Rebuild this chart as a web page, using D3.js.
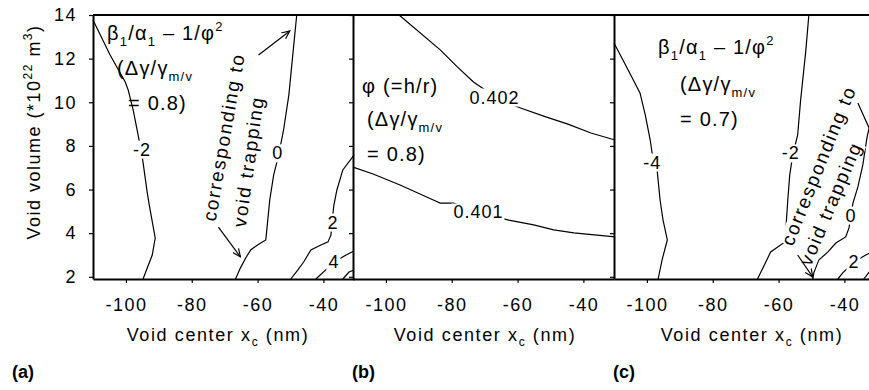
<!DOCTYPE html>
<html>
<head>
<meta charset="utf-8">
<script src="https://cdn.jsdelivr.net/npm/d3@7"></script>
<style>
  body { margin: 0; background: #fff; }
  svg text { font-family: "Liberation Sans", Arial, sans-serif; fill: #000; }
</style>
</head>
<body>
<svg id="chart" width="869" height="390"></svg>
<script>
// axes
const xTicks = [-100, -80, -60, -40];
const yTicks = [2, 4, 6, 8, 10, 12, 14];
const xDomain = [-110, -30.7];
const yDomain = [1.9, 14];

// (a) beta1/alpha1 - 1/phi^2, dgamma = 0.8
const aMinus2 = [[-110, 13.77], [-104.8, 12.17], [-100.2, 10.93], [-99.3, 10.56], [-97.8, 9.65], [-96.6, 8.73], [-95.1, 7.58], [-93.5, 5.84], [-92.9, 5.29], [-91.1, 3.78], [-92.0, 3.0], [-94.8, 1.9]];
const aZero = [[-48.1, 14], [-49.0, 12.63], [-50.5, 10.33], [-52.1, 8.73], [-53.6, 7.58], [-55.1, 6.67], [-56.3, 5.52], [-56.9, 4.6], [-57.5, 3.69], [-60.0, 3.46], [-62.1, 3.23], [-63.6, 2.86], [-65.2, 2.41], [-66.7, 1.9]];
const aTwo = [[-30.7, 7.58], [-34.1, 6.9], [-35.9, 5.98], [-36.8, 5.29], [-37.4, 4.51], [-37.7, 3.92], [-38.6, 3.6], [-41.4, 3.41], [-43.8, 3.23], [-46.0, 2.68], [-47.8, 2.31], [-49.9, 1.9]];
const aFour = [[-30.7, 3.18], [-33.1, 3.0], [-36.8, 2.68], [-38.6, 2.41], [-42.3, 1.9]];
const aSix = [[-30.7, 2.31], [-32.2, 2.22], [-34.1, 1.9]];
const aLabels = [['-2', -95.1, 7.85], ['0', -53.9, 7.68], ['2', -37.1, 4.51], ['4', -36.8, 2.68]];

// (b) phi = h/r, dgamma = 0.8
const b0402 = [[-96.0, 14], [-83.5, 12.4], [-78.3, 11.62], [-73.4, 10.93], [-66.7, 10.24], [-59.1, 9.74], [-51.4, 9.33], [-44.7, 9.0], [-37.7, 8.59], [-30.4, 8.27]];
const b0401 = [[-110, 7.03], [-103.9, 6.71], [-95.7, 6.21], [-85.6, 5.52], [-83.5, 5.38], [-79.5, 5.38], [-71.9, 4.97], [-62.7, 4.6], [-55.1, 4.38], [-49.0, 4.15], [-42.9, 4.01], [-30.4, 3.83]];
const bLabels = [['0.402', -67.0, 10.24], ['0.401', -71.9, 4.97]];

// (c) beta1/alpha1 - 1/phi^2, dgamma = 0.7
const cMinus4 = [[-110, 12.72], [-105.7, 11.48], [-102.1, 10.43], [-100.5, 9.42], [-99.0, 8.27], [-98.1, 7.35], [-96.9, 6.9], [-96.0, 5.52], [-95.1, 4.6], [-93.8, 3.69], [-95.4, 2.77], [-96.6, 1.9]];
const cMinus2 = [[-50.8, 14], [-51.7, 12.4], [-53.3, 10.1], [-54.2, 8.5], [-55.7, 7.58], [-56.6, 6.67], [-57.2, 5.52], [-57.8, 4.15], [-58.5, 3.55], [-62.4, 3.14], [-66.4, 1.9]];
const cZero = [[-35.9, 9.97], [-32.5, 8.82], [-33.1, 8.41], [-34.4, 7.13], [-35.9, 6.12], [-37.4, 5.38], [-38.0, 4.83], [-38.6, 4.24], [-39.6, 3.83], [-42.6, 3.55], [-45.0, 3.14], [-47.8, 2.77], [-49.3, 2.18], [-49.6, 1.9]];
const cTwo = [[-30.4, 3.23], [-33.5, 3.0], [-37.1, 2.68], [-40.5, 2.18], [-42.0, 1.9]];
const cFour = [[-30.4, 2.5], [-32.2, 2.27], [-34.1, 1.9]];
const cLabels = [['-4', -98.4, 7.26], ['-2', -56.3, 7.68], ['0', -38.0, 4.83], ['2', -37.1, 2.68]];

// "corresponding to void trapping" notes: [text, x, y, angle]
const aNotes = [['corresponding to', -72.8, 4.51, -80], ['void trapping', -63.6, 4.24, -82]];
const cNotes = [['corresponding to', -55.7, 3.37, -68], ['void trapping', -50.2, 2.45, -67]];
const aArrows = [[-59.7, 12.17, -50.2, 13.27], [-71.9, 4.28, -65.2, 2.91]];
const cArrows = [[-54.2, 3.0, -49.6, 1.99]];

const plotTop = 15, plotBottom = 279, panelW = 261;
const panels = [
    { left: 93, tag: '(a)', titleX: 218, lines: [aMinus2, aZero, aTwo, aFour, aSix], labels: aLabels, notes: aNotes, arrows: aArrows },
    { left: 353, tag: '(b)', titleX: 485, lines: [b0402, b0401], labels: bLabels, notes: [], arrows: [] },
    { left: 614, tag: '(c)', titleX: 752, lines: [cMinus4, cMinus2, cZero, cTwo, cFour], labels: cLabels, notes: cNotes, arrows: cArrows },
];

const svg = d3.select('#chart');

svg.append('defs').append('marker')
    .attr('id', 'head')
    .attr('viewBox', '0 0 10 10')
    .attr('refX', 9).attr('refY', 5)
    .attr('markerWidth', 9).attr('markerHeight', 9)
    .attr('markerUnits', 'userSpaceOnUse')
    .attr('orient', 'auto')
    .append('path')
    .attr('d', 'M0,1 L9,5 L0,9')
    .attr('fill', 'none')
    .attr('stroke', '#000')
    .attr('stroke-width', 1.3);

const y = d3.scaleLinear().domain(yDomain).range([plotBottom, plotTop]);
const plain = d => String(d);

panels.forEach((p, i) => {
    const x = d3.scaleLinear().domain(xDomain).range([p.left, p.left + panelW]);
    const g = svg.append('g');

    const line = d3.line().x(d => x(d[0])).y(d => y(d[1]));
    g.selectAll('path.contour')
        .data(p.lines)
        .enter().append('path')
        .attr('class', 'contour')
        .attr('d', line)
        .attr('fill', 'none')
        .attr('stroke', '#000')
        .attr('stroke-width', 1.2);

    // contour labels on white patches
    p.labels.forEach(l => {
        const t = g.append('text')
            .attr('x', x(l[1]))
            .attr('y', y(l[2]))
            .attr('dy', '0.36em')
            .attr('text-anchor', 'middle')
            .attr('font-size', 18)
            .attr('letter-spacing', 1)
            .text(l[0]);
        const bb = t.node().getBBox();
        g.insert('rect', 'text')
            .attr('x', bb.x - 2).attr('y', bb.y + 1)
            .attr('width', bb.width + 3).attr('height', bb.height - 2)
            .attr('fill', '#fff');
    });

    p.notes.forEach(n => {
        const t = g.append('text')
            .attr('transform', `translate(${x(n[1])},${y(n[2])}) rotate(${n[3]})`)
            .attr('font-size', 19)
            .attr('letter-spacing', 1.8)
            .text(n[0]);
        const bb = t.node().getBBox();
        g.insert('rect', 'text')
            .attr('transform', `translate(${x(n[1])},${y(n[2])}) rotate(${n[3]})`)
            .attr('x', bb.x).attr('y', bb.y + 2)
            .attr('width', bb.width).attr('height', bb.height - 2)
            .attr('fill', '#fff');
    });

    g.selectAll('line.arrow')
        .data(p.arrows)
        .enter().append('line')
        .attr('class', 'arrow')
        .attr('x1', d => x(d[0])).attr('y1', d => y(d[1]))
        .attr('x2', d => x(d[2])).attr('y2', d => y(d[3]))
        .attr('stroke', '#000')
        .attr('stroke-width', 1.2)
        .attr('marker-end', 'url(#head)');

    // frame: bottom + left axes, top edge
    const xAxis = g.append('g')
        .attr('transform', `translate(0,${plotBottom})`)
        .call(d3.axisBottom(x).tickValues(xTicks).tickFormat(plain)
            .tickSize(4).tickPadding(15).tickSizeOuter(0));
    const yAxis = g.append('g')
        .attr('transform', `translate(${p.left},0)`)
        .call(d3.axisLeft(y).tickValues(yTicks).tickFormat(plain)
            .tickSize(4).tickPadding(12).tickSizeOuter(0));
    [xAxis, yAxis].forEach(ax => {
        ax.select('.domain').attr('stroke', '#000').attr('stroke-width', 2);
        ax.selectAll('.tick line').attr('stroke', '#000').attr('stroke-width', 1.2);
        ax.selectAll('.tick text')
            .attr('font-family', '"Liberation Sans", Arial, sans-serif')
            .attr('font-size', 18)
            .attr('letter-spacing', 1.5)
            .attr('fill', '#000');
    });
    if (i > 0) yAxis.selectAll('.tick text').remove();

    g.append('line')
        .attr('x1', p.left).attr('x2', p.left + panelW)
        .attr('y1', plotTop).attr('y2', plotTop)
        .attr('stroke', '#000').attr('stroke-width', 2);

    const title = g.append('text')
        .attr('x', p.titleX).attr('y', 341)
        .attr('text-anchor', 'middle')
        .attr('font-size', 18)
        .attr('letter-spacing', 1.6);
    title.append('tspan').text('Void center x');
    title.append('tspan').attr('font-size', 12).attr('dy', 5).text('c');
    title.append('tspan').attr('dy', -5).text(' (nm)');

    g.append('text')
        .attr('x', p.left - (i === 0 ? 81 : 1)).attr('y', 378)
        .attr('font-size', 18)
        .attr('font-weight', 'bold')
        .text(p.tag);
});

// in-plot captions
function caption(px, py, parts) {
    const t = svg.append('text')
        .attr('x', px).attr('y', py)
        .attr('font-size', 20)
        .attr('letter-spacing', 1.2);
    parts.forEach(s => {
        const sp = t.append('tspan').text(s[0]);
        if (s[1] === 'sub') sp.attr('font-size', 13).attr('dy', 6);
        if (s[1] === 'sup') sp.attr('font-size', 13).attr('dy', -9);
        if (s[1] === 'back') sp.attr('dy', -6);
    });
}
const betaLine = [['β'], ['1', 'sub'], ['/α', 'back'], ['1', 'sub'], [' – 1/φ', 'back'], ['2', 'sup']];
const gammaLine = [['(Δγ/γ'], ['m/v', 'sub']];

caption(107, 40, betaLine);
caption(117, 75, gammaLine);
caption(128, 110, [['= 0.8)']]);

caption(362, 93, [['φ (=h/r)']]);
caption(367, 126, gammaLine);
caption(367, 161, [['= 0.8)']]);

caption(658, 54, betaLine);
caption(680, 91, gammaLine);
caption(680, 126, [['= 0.7)']]);

// y axis title
const yt = svg.append('text')
    .attr('transform', 'translate(40,132) rotate(-90)')
    .attr('text-anchor', 'middle')
    .attr('font-size', 18)
    .attr('letter-spacing', 1.5);
yt.append('tspan').text('Void volume (*10');
yt.append('tspan').attr('font-size', 12).attr('dy', -8).text('22');
yt.append('tspan').attr('dy', 8).text(' m');
yt.append('tspan').attr('font-size', 12).attr('dy', -8).text('3');
yt.append('tspan').attr('dy', 8).text(')');
</script>
</body>
</html>
